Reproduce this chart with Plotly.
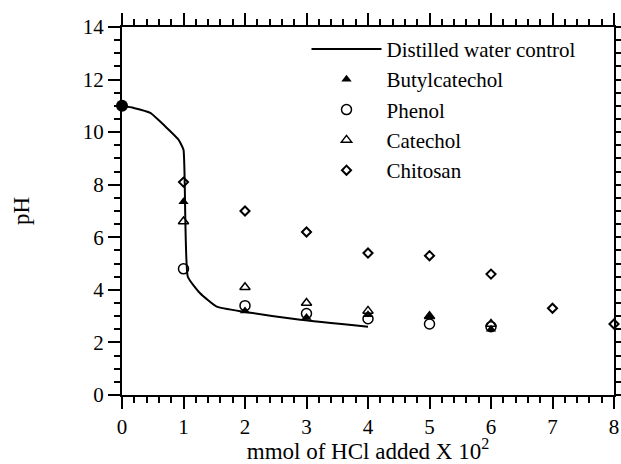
import plotly.graph_objects as go

# Distilled water control titration curve
control_x = [0, 0.19, 0.46, 0.73, 0.92, 1.0, 1.07, 1.27, 1.54, 1.97, 2.9, 4.0]
control_y = [11.0, 10.92, 10.73, 10.16, 9.71, 9.33, 4.5, 3.87, 3.36, 3.17, 2.86, 2.6]

start_x = [0]
start_y = [11.0]

butyl_x = [1, 2, 3, 4, 5, 6]
butyl_y = [7.35, 3.2, 2.95, 3.05, 3.0, 2.5]

phenol_x = [1, 2, 3, 4, 5, 6]
phenol_y = [4.8, 3.4, 3.1, 2.9, 2.7, 2.6]

catechol_x = [1, 2, 3, 4, 5, 6]
catechol_y = [6.6, 4.1, 3.5, 3.2, 3.0, 2.7]

chitosan_x = [1, 2, 3, 4, 5, 6, 7, 8]
chitosan_y = [8.1, 7.0, 6.2, 5.4, 5.3, 4.6, 3.3, 2.7]

FONT = "Liberation Serif, Times New Roman, serif"

fig = go.Figure()
fig.add_trace(go.Scatter(x=control_x, y=control_y, mode="lines",
                         name="Distilled water control",
                         line=dict(color="black", width=2, shape="spline", smoothing=0.4)))
fig.add_trace(go.Scatter(x=butyl_x, y=butyl_y, mode="markers", name="Butylcatechol",
                         marker=dict(symbol="triangle-up", size=9, color="black")))
fig.add_trace(go.Scatter(x=phenol_x, y=phenol_y, mode="markers", name="Phenol",
                         marker=dict(symbol="circle-open", size=10, color="black",
                                     line=dict(width=1.5))))
fig.add_trace(go.Scatter(x=catechol_x, y=catechol_y, mode="markers", name="Catechol",
                         marker=dict(symbol="triangle-up-open", size=9, color="black",
                                     line=dict(width=1.5))))
fig.add_trace(go.Scatter(x=chitosan_x, y=chitosan_y, mode="markers", name="Chitosan",
                         marker=dict(symbol="diamond-open", size=7, color="black",
                                     line=dict(width=2)), cliponaxis=False))
fig.add_trace(go.Scatter(x=start_x, y=start_y, mode="markers", showlegend=False,
                         marker=dict(symbol="circle", size=12, color="black"),
                         cliponaxis=False))

axis_common = dict(showline=True, linecolor="black", linewidth=2, mirror="allticks",
                   ticks="outside", ticklen=12, tickwidth=1.5, tickcolor="black",
                   showgrid=False, zeroline=False, automargin=False,
                   tickfont=dict(family=FONT, size=21, color="black"))

fig.update_xaxes(range=[0, 8], dtick=1, tick0=0,
                 minor=dict(dtick=0.2, ticks="outside", ticklen=6, tickwidth=1.5,
                            tickcolor="black", showgrid=False),
                 title=dict(text="mmol of HCl added X 10<sup>2</sup>",
                            font=dict(family=FONT, size=23, color="black"), standoff=4),
                 **axis_common)
fig.update_yaxes(range=[0, 14], dtick=2, tick0=0,
                 minor=dict(dtick=0.5, ticks="outside", ticklen=6, tickwidth=1.5,
                            tickcolor="black", showgrid=False),
                 title=dict(text="pH", font=dict(family=FONT, size=23, color="black"),
                            standoff=47),
                 **axis_common)

fig.update_layout(
    width=621, height=464,
    margin=dict(l=122, r=7, t=27, b=69),
    paper_bgcolor="white", plot_bgcolor="white",
    showlegend=True,
    legend=dict(x=0.375, y=0.995, xanchor="left", yanchor="top",
                font=dict(family=FONT, size=21, color="black"),
                bgcolor="rgba(0,0,0,0)", tracegroupgap=0, itemwidth=70),
)

fig.write_html("out.html")
